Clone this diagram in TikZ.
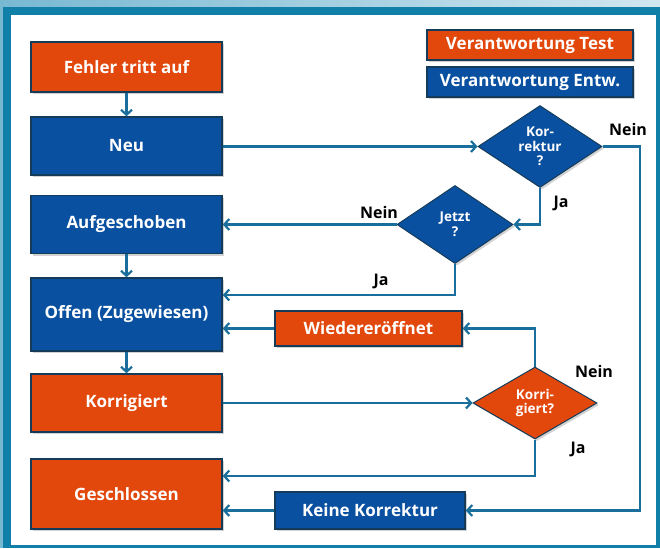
\documentclass[tikz,border=0pt]{standalone}
\usepackage{fontspec}
\setmainfont{Open Sans}
\usetikzlibrary{positioning,arrows.meta,shapes.geometric,shadows}

\definecolor{testrot}{HTML}{E2470C}
\definecolor{entwblau}{HTML}{0A50A0}
\definecolor{rahmen}{HTML}{143C5A}
\definecolor{pfeilblau}{HTML}{196E9B}
\definecolor{randblau}{HTML}{1080A8}
\definecolor{aussen}{HTML}{78B9D2}

\begin{document}
\begin{tikzpicture}[
  x=1pt, y=-1pt,
  font=\bfseries\fontsize{17}{20}\selectfont,
  box/.style={rectangle, draw=rahmen, line width=1.5pt, text=white,
              minimum width=191pt, minimum height=58pt, inner sep=2pt, align=center,
              drop shadow={shadow xshift=2pt, shadow yshift=-2pt, opacity=0.35}},
  test/.style={box, fill=testrot},
  entw/.style={box, fill=entwblau},
  frage/.style={diamond, draw=rahmen, line width=1pt, text=white, inner sep=0pt, align=center,
                font=\bfseries\fontsize{13.5}{14.5}\selectfont,
                drop shadow={shadow xshift=2pt, shadow yshift=-2pt, opacity=0.35}},
  pfeil/.style={draw=pfeilblau, line width=2.2pt, -{Straight Barb[length=5pt,width=11pt]}},
  antwort/.style={font=\bfseries\fontsize{16}{18}\selectfont, text=black}
]
\useasboundingbox (0,0) rectangle (660,548);

% Rahmen
\fill[aussen] (0,0) rectangle (660,548);
\shade[left color=aussen, right color=aussen!35] (0,0) rectangle (660,7);
\fill[randblau] (3,7) rectangle (660,548);
\fill[white] (11,15) rectangle (656,545);

% Zustaende
\node[test] (fehler) at (126.5,67)  [minimum height=50pt] {Fehler tritt auf};
\node[entw] (neu)    at (126.5,146) {Neu};
\node[entw] (aufg)   at (126.5,224.5) {Aufgeschoben};
\node[entw] (offen)  at (126.5,314.5) [minimum height=73pt] {Offen (Zugewiesen)};
\node[test] (korr)   at (126.5,403) {Korrigiert};
\node[test] (geschl) at (126.5,494) [minimum height=70pt] {Geschlossen};

% Legende
\node[test] (legtest) at (530,45) [minimum width=206pt, minimum height=30pt] {Verantwortung Test};
\node[entw] (legentw) at (530,82) [minimum width=206pt, minimum height=30pt] {Verantwortung Entw.};

% Entscheidungen
\node[frage, fill=entwblau] (fkorrektur) at (540,146.5) [minimum width=124pt, minimum height=81pt] {Kor-\\rektur\\?};
\node[frage, fill=entwblau] (fjetzt)     at (455,224.5) [minimum width=116pt, minimum height=78pt] {Jetzt\\?};
\node[frage, fill=testrot]  (fkorrigiert) at (535,403)  [minimum width=124pt, minimum height=72pt] {Korri-\\giert?};

\node[test] (wieder) at (368.5,328.5) [minimum width=187pt, minimum height=35pt] {Wiedereröffnet};
\node[entw] (keine)  at (370,510.5)   [minimum width=190pt, minimum height=37pt] {Keine Korrektur};

% Antworten
\node[antwort] (nein1) at (628,130) {Nein};
\node[antwort] (ja1)   at (561,203) {Ja};
\node[antwort] (nein2) at (379,212) {Nein};
\node[antwort] (ja2)   at (381,281) {Ja};
\node[antwort] (nein3) at (594,371) {Nein};
\node[antwort] (ja3)   at (578,449) {Ja};

\coordinate (rechts) at (640,146.5);

% Pfeile
\draw[pfeil] (fehler) -- (neu);
\draw[pfeil] (aufg) -- (offen);
\draw[pfeil] (offen) -- (korr);
\draw[pfeil] (neu.east |- fkorrektur.west) -- (fkorrektur.west);
\draw[pfeil] (fkorrektur.south) |- (fjetzt.east);
\draw[pfeil] (fkorrektur.east) -- (rechts) |- (keine.east);
\draw[pfeil] (fjetzt.west) -- (aufg.east);
\draw[pfeil] (fjetzt.south) |- ([yshift=19.5pt]offen.east);
\draw[pfeil] (wieder) -- (offen.east |- wieder);
\draw[pfeil] (korr) -- (fkorrigiert);
\draw[pfeil] (fkorrigiert.north) |- (wieder.east);
\draw[pfeil] (fkorrigiert.south) |- ([yshift=18pt]geschl.east);
\draw[pfeil] (keine) -- (geschl.east |- keine);
\end{tikzpicture}
\end{document}
